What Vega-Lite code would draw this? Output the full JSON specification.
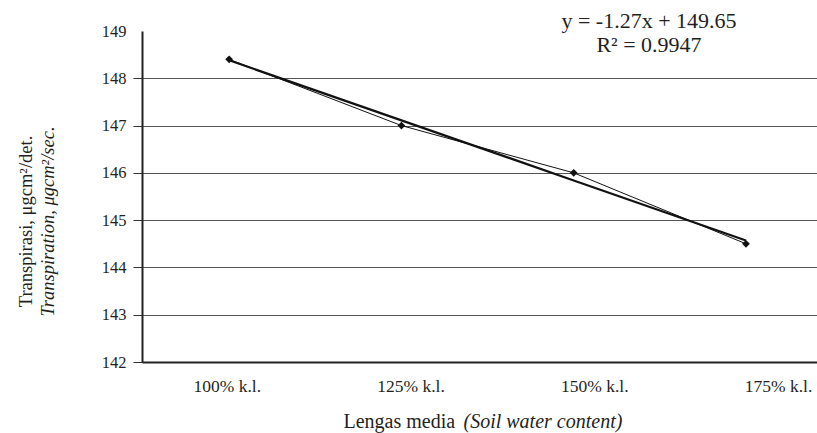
{
  "$schema": "https://vega.github.io/schema/vega-lite/v6.json",
  "width": 675,
  "height": 331,
  "autosize": {"type": "none"},
  "padding": {"left": 142, "top": 31, "right": 0, "bottom": 71},
  "background": "white",
  "config": {
    "font": "Liberation Serif",
    "view": {"stroke": null},
    "axis": {"labelFont": "Liberation Serif", "titleFont": "Liberation Serif", "labelColor": "#231f20", "titleColor": "#231f20", "titleFontWeight": "normal"}
  },
  "title": {
    "text": ["y = -1.27x + 149.65", "R\u00b2 = 0.9947"],
    "font": "Liberation Serif",
    "fontSize": 22,
    "fontWeight": "normal",
    "color": "#231f20",
    "anchor": "end",
    "align": "center",
    "frame": "group",
    "dx": -168,
    "offset": -34,
    "lineHeight": 24
  },
  "data": {
    "values": [
      {"media": "100% k.l.", "series": "data", "value": 148.4},
      {"media": "125% k.l.", "series": "data", "value": 147.0},
      {"media": "150% k.l.", "series": "data", "value": 146.0},
      {"media": "175% k.l.", "series": "data", "value": 144.5},
      {"media": "100% k.l.", "series": "trend", "value": 148.38},
      {"media": "125% k.l.", "series": "trend", "value": 147.11},
      {"media": "150% k.l.", "series": "trend", "value": 145.84},
      {"media": "175% k.l.", "series": "trend", "value": 144.57}
    ]
  },
  "layer": [
    {
      "transform": [{"filter": "datum.series === 'data'"}],
      "mark": {"type": "point", "opacity": 0},
      "encoding": {
        "x": {
          "field": "media", "type": "ordinal", "sort": null,
          "scale": {"type": "point", "padding": 0.337, "align": 0.685},
          "axis": {
            "orient": "bottom", "ticks": false, "domainColor": "#222", "domainWidth": 2,
            "labelFontSize": 17.5, "labelPadding": 15, "labelAngle": 0,
            "title": "Lengas media", "titleFontSize": 20,
            "titleAnchor": "start", "titleAlign": "left", "titleBaseline": "middle", "titleX": 201, "titleY": 59
          }
        },
        "y": {
          "field": "value", "type": "quantitative",
          "scale": {"domain": [142, 149], "nice": false, "zero": false},
          "axis": {
            "orient": "left", "values": [142, 143, 144, 145, 146, 147, 148, 149],
            "format": "d", "labelFontSize": 16.5, "labelPadding": 7,
            "tickSize": 9, "tickColor": {"condition": {"test": "datum.value >= 149", "value": "transparent"}, "value": "#333"},
            "domainColor": "#222", "domainWidth": 2,
            "grid": true, "gridColor": {"condition": {"test": "datum.value >= 149", "value": "transparent"}, "value": "#555"}, "gridWidth": 1,
            "title": "Transpiration, \u03bcgcm\u00b2/sec.", "titleFontStyle": "italic", "titleFontSize": 18.5,
            "titleAngle": -90, "titleAlign": "center", "titleBaseline": "middle", "titleX": -95, "titleY": 190
          }
        }
      }
    },
    {
      "encoding": {
        "x": {
          "field": "media", "type": "ordinal", "sort": null,
          "scale": {"type": "point", "padding": 0.459, "align": 0.551},
          "axis": {
            "orient": "bottom", "labels": false, "ticks": false, "domain": false, "grid": false,
            "title": "(Soil water content)", "titleFontStyle": "italic", "titleFontSize": 20,
            "titleAnchor": "start", "titleAlign": "left", "titleBaseline": "middle", "titleX": 321, "titleY": 59
          }
        },
        "y": {
          "field": "value", "type": "quantitative",
          "scale": {"domain": [142, 149], "nice": false, "zero": false},
          "axis": {
            "orient": "left", "labels": false, "ticks": false, "domain": false, "grid": false,
            "title": "Transpirasi, \u03bcgcm\u00b2/det.", "titleFontSize": 18.5,
            "titleAngle": -90, "titleAlign": "center", "titleBaseline": "middle", "titleX": -117, "titleY": 190
          }
        }
      },
      "layer": [
        {
          "mark": {"type": "line", "color": "#111"},
          "encoding": {
            "detail": {"field": "series"},
            "strokeWidth": {"field": "series", "type": "nominal", "scale": {"domain": ["data", "trend"], "range": [1, 2.2]}, "legend": null}
          }
        },
        {
          "transform": [{"filter": "datum.series === 'data'"}],
          "mark": {"type": "point", "shape": "diamond", "filled": true, "color": "#111", "opacity": 1, "size": 60}
        }
      ]
    }
  ],
  "resolve": {"scale": {"x": "independent", "y": "independent"}}
}
